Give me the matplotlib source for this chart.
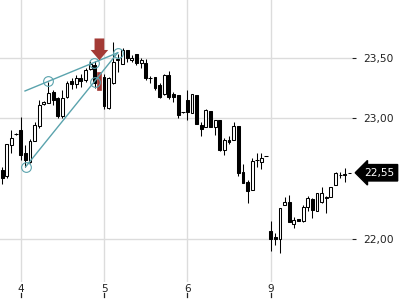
import matplotlib
matplotlib.use("Agg")
import matplotlib.pyplot as plt
import matplotlib.transforms as mtransforms
from matplotlib.patches import Rectangle, FancyArrow
import numpy as np

# ---- data ----
opens = [22.57, 22.52, 22.78, 22.87, 22.90, 22.71, 22.64, 22.81, 22.94, 23.115,
         23.13, 23.22, 23.165, 23.02, 23.175, 23.305, 23.28, 23.33, 23.32, 23.41,
         23.44, 23.38, 23.34, 23.085, 23.29, 23.48, 23.445, 23.565, 23.48, 23.535,
         23.46, 23.46, 23.335, 23.345, 23.275, 23.20, 23.36, 23.20, 23.19, 23.05,
         23.15, 23.04, 23.19, 22.945, 22.93, 23.06, 22.93, 22.99, 22.74, 22.82,
         22.82, 22.94, 22.56, 22.475, 22.41, 22.655, 22.64, 22.69, 22.07, 22.02,
         22.00, 22.28, 22.31, 22.125, 22.165, 22.155, 22.27, 22.335, 22.23, 22.31,
         22.35, 22.35, 22.445, 22.53, 22.535, 22.55]
highs = [22.60, 22.79, 22.90, 22.875, 23.01, 22.78, 22.83, 22.97, 23.15, 23.14,
         23.30, 23.235, 23.18, 23.235, 23.31, 23.335, 23.36, 23.365, 23.415, 23.47,
         23.47, 23.38, 23.37, 23.34, 23.63, 23.53, 23.585, 23.565, 23.525, 23.535,
         23.495, 23.49, 23.35, 23.345, 23.29, 23.365, 23.39, 23.22, 23.19, 23.055,
         23.235, 23.20, 23.19, 22.97, 23.08, 23.06, 22.99, 22.99, 22.835, 22.85,
         22.97, 22.94, 22.62, 22.49, 22.675, 22.715, 22.715, 22.69, 22.15, 22.055,
         22.255, 22.35, 22.37, 22.185, 22.17, 22.28, 22.355, 22.345, 22.38, 22.435,
         22.355, 22.435, 22.56, 22.56, 22.59, 22.55]
lows = [22.46, 22.51, 22.71, 22.865, 22.655, 22.60, 22.63, 22.81, 22.92, 23.11,
        23.13, 23.11, 23.00, 23.00, 23.17, 23.245, 23.25, 23.26, 23.30, 23.40,
        23.25, 23.235, 23.08, 23.08, 23.285, 23.38, 23.445, 23.465, 23.465, 23.44,
        23.415, 23.32, 23.29, 23.235, 23.17, 23.19, 23.16, 23.135, 23.00, 23.045,
        22.99, 23.04, 22.95, 22.85, 22.93, 22.93, 22.86, 22.73, 22.70, 22.785,
        22.82, 22.525, 22.465, 22.30, 22.41, 22.60, 22.58, 22.69, 21.90, 21.95,
        21.885, 22.28, 22.14, 22.09, 22.15, 22.145, 22.23, 22.18, 22.23, 22.30,
        22.215, 22.35, 22.445, 22.51, 22.475, 22.55]
closes = [22.51, 22.79, 22.84, 22.87, 22.70, 22.655, 22.81, 22.945, 23.11, 23.135,
          23.21, 23.15, 23.02, 23.165, 23.29, 23.285, 23.335, 23.31, 23.40, 23.445,
          23.29, 23.235, 23.10, 23.33, 23.465, 23.49, 23.565, 23.495, 23.50, 23.455,
          23.48, 23.33, 23.335, 23.25, 23.18, 23.36, 23.18, 23.175, 23.025, 23.05,
          23.055, 23.20, 22.95, 22.915, 23.065, 22.93, 22.99, 22.74, 22.82, 22.805,
          22.94, 22.545, 22.465, 22.40, 22.65, 22.655, 22.67, 22.69, 22.00, 22.00,
          22.255, 22.305, 22.14, 22.16, 22.155, 22.265, 22.34, 22.24, 22.38, 22.38,
          22.34, 22.435, 22.545, 22.535, 22.54, 22.55]
signal_index = 21

day_start_index = [4, 22, 40, 58]
day_labels = ["4", "5", "6", "9"]
price_ticks = [22.0, 23.0, 23.5]
last_price = 22.55

# trend lines (index, price)
line_a_x = [4.93, 24.95]
line_a_y = [23.226, 23.542]
line_a_marks_x = [9.96, 19.83, 24.95]
line_a_marks_y = [23.311, 23.458, 23.542]
line_b_x = [5.08, 24.95]
line_b_y = [22.600, 23.542]
line_b_marks_x = [5.08, 20.05]
line_b_marks_y = [22.600, 23.30]

# arrow marker (index, top price, tip price)
arrow_x = 21.0
arrow_top = 23.66
arrow_tip = 23.48

# ---- figure ----
fig = plt.figure(figsize=(4, 3), dpi=100)
ax = fig.add_axes([0, 18 / 300, 352 / 400, 282 / 300])
ax.set_xlim(-0.47, 75.55)
ax.set_ylim(21.647, 23.978)

grid_c = "#dcdcdc"
for p in price_ticks:
    ax.axhline(p, color=grid_c, lw=1.0, zorder=0)
for d in day_start_index:
    ax.axvline(d, color=grid_c, lw=1.0, zorder=0)

teal = "#5aa3ad"
red = "#a33a35"
bw = 0.62
lw = 0.75
n = len(opens)
xs = np.arange(n)
for i in range(n):
    o, h, l, c = opens[i], highs[i], lows[i], closes[i]
    if i == signal_index:
        ax.add_patch(Rectangle((i - 0.45, min(o, c)), 0.9, abs(o - c),
                               facecolor=red, edgecolor=red, lw=0.5, zorder=3))
        continue
    ax.vlines(i, l, h, color="black", lw=lw, zorder=2)
    if abs(o - c) < 0.004:
        ax.hlines(o, i - bw / 2 - 0.1, i + bw / 2 + 0.1, color="black", lw=lw, zorder=3)
    elif c > o:
        ax.add_patch(Rectangle((i - bw / 2, o), bw, c - o, facecolor="white",
                               edgecolor="black", lw=lw, zorder=3))
    else:
        ax.add_patch(Rectangle((i - bw / 2, c), bw, o - c, facecolor="black",
                               edgecolor="black", lw=lw, zorder=3))

# trend lines
ax.plot(line_a_x, line_a_y, color=teal, lw=1.0, zorder=4)
ax.plot(line_b_x, line_b_y, color=teal, lw=1.0, zorder=4)
ax.plot(line_a_marks_x, line_a_marks_y, ls="none", marker="o", ms=7,
        mfc="none", mec=teal, mew=0.8, zorder=4)
ax.plot(line_b_marks_x, line_b_marks_y, ls="none", marker="o", ms=7,
        mfc="none", mec=teal, mew=0.8, zorder=4)

# arrow
ax.add_patch(FancyArrow(arrow_x, arrow_top, 0, arrow_tip - arrow_top, width=2.1,
                        head_width=3.8, head_length=0.085, length_includes_head=True,
                        facecolor=red, edgecolor=red, lw=0, zorder=5))

for s in ax.spines.values():
    s.set_visible(False)

ax.yaxis.tick_right()
ax.set_yticks(price_ticks)
ax.set_yticklabels([f"{p:.2f}".replace(".", ",") for p in price_ticks])
ax.tick_params(axis="y", length=3, width=0.8, pad=5, labelsize=7.7, colors="#222222")

ax.set_xticks(day_start_index)
ax.set_xticklabels(day_labels)
ax.tick_params(axis="x", length=0, pad=1.5, labelsize=7.5, colors="#222222")
trans = ax.get_xaxis_transform()
for d in day_start_index:
    ax.plot([d, d], [-11 / 282, -15 / 282], transform=trans, color="#222222",
            lw=0.9, clip_on=False)

# last price label
tr = mtransforms.blended_transform_factory(ax.transAxes, ax.transData)
ax.text(1.035, last_price, f"{last_price:.2f}".replace(".", ","), transform=tr,
        color="white", fontsize=7.7, va="center", ha="left",
        bbox=dict(boxstyle="larrow,pad=0.3", fc="black", ec="black"))

fig.savefig("out.png", dpi=100)
